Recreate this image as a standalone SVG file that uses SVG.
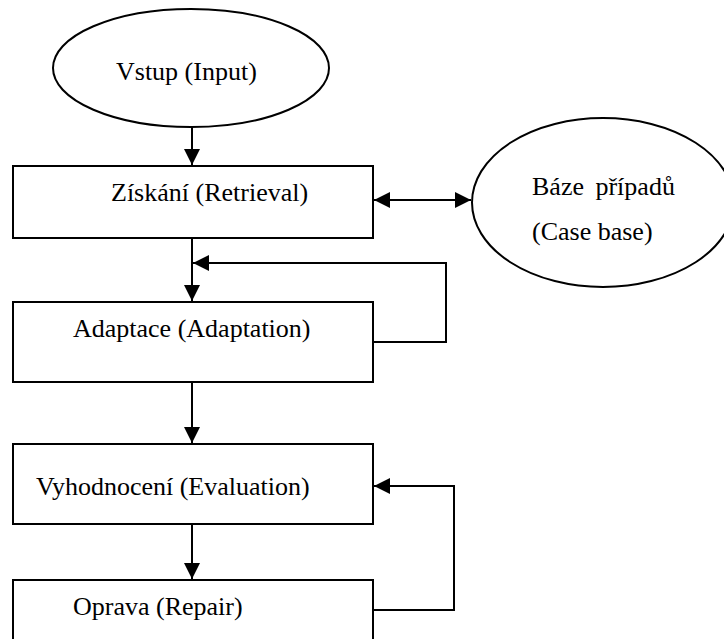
<svg xmlns="http://www.w3.org/2000/svg" width="724" height="639" viewBox="0 0 724 639">
  <style>
    .shape { fill: #ffffff; stroke: #000000; stroke-width: 2; }
    .link { fill: none; stroke: #000000; stroke-width: 2; }
    .label { font-family: "Liberation Serif", "Times New Roman", serif; font-size: 26px; fill: #000000; }
  </style>
  <defs>
    <marker id="arrow" viewBox="0 0 16 16" refX="16" refY="8" markerWidth="16" markerHeight="16" markerUnits="userSpaceOnUse" orient="auto-start-reverse">
      <path d="M0,0 L16,8 L0,16 Z" fill="#000000"/>
    </marker>
  </defs>
  <rect width="724" height="639" fill="#ffffff"/>

  <g id="input">
    <ellipse class="shape" cx="191" cy="68" rx="138" ry="59"/>
    <text class="label" x="116" y="80">Vstup (Input)</text>
  </g>

  <g id="retrieval">
    <rect class="shape" x="13" y="166" width="360" height="72"/>
    <text class="label" x="111" y="201">Získání (Retrieval)</text>
  </g>

  <g id="case-base">
    <ellipse class="shape" cx="603" cy="202.5" rx="131" ry="84.5"/>
    <text class="label" x="532" y="195" word-spacing="5">Báze případů</text>
    <text class="label" x="532" y="240">(Case base)</text>
  </g>

  <g id="adaptation">
    <rect class="shape" x="13" y="302" width="360" height="80"/>
    <text class="label" x="73" y="337">Adaptace (Adaptation)</text>
  </g>

  <g id="evaluation">
    <rect class="shape" x="13" y="444" width="360" height="80"/>
    <text class="label" x="36" y="495">Vyhodnocení (Evaluation)</text>
  </g>

  <g id="repair">
    <rect class="shape" x="13" y="580" width="360" height="80"/>
    <text class="label" x="73" y="615">Oprava (Repair)</text>
  </g>

  <g id="connectors">
    <path class="link" d="M192,127 L192,165" marker-end="url(#arrow)"/>
    <path class="link" d="M374,200 L471,200" marker-start="url(#arrow)" marker-end="url(#arrow)"/>
    <path class="link" d="M192,238 L192,301" marker-end="url(#arrow)"/>
    <path class="link" d="M373,342 L446,342 L446,263 L193,263" marker-end="url(#arrow)"/>
    <path class="link" d="M192,382 L192,443" marker-end="url(#arrow)"/>
    <path class="link" d="M192,524 L192,579" marker-end="url(#arrow)"/>
    <path class="link" d="M373,610 L454,610 L454,486 L374,486" marker-end="url(#arrow)"/>
  </g>
</svg>
